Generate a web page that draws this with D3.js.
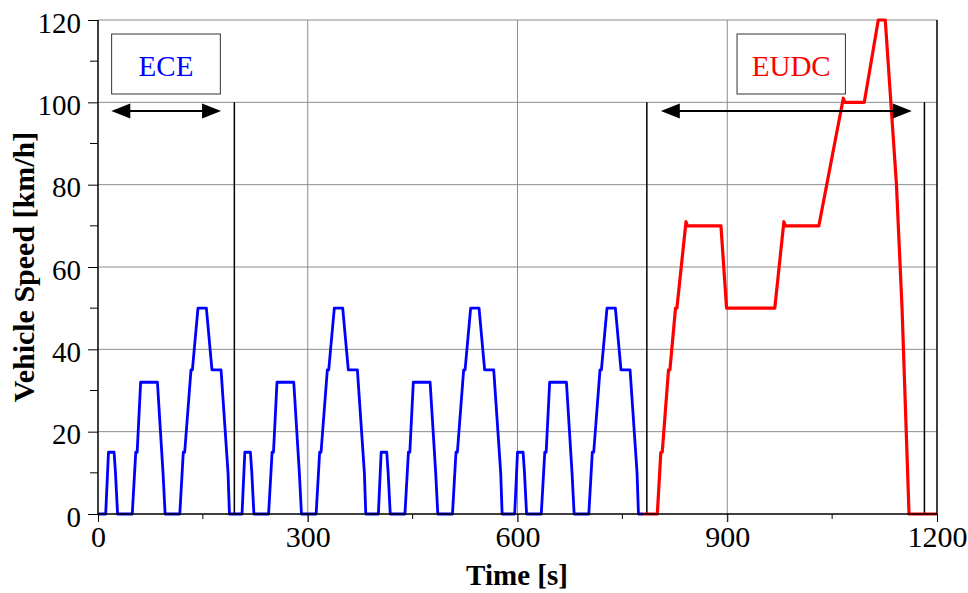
<!DOCTYPE html>
<html>
<head>
<meta charset="utf-8">
<script src="https://cdn.jsdelivr.net/npm/d3@7"></script>
<style>
  body { margin: 0; background: #fff; }
  text { font-family: "Liberation Serif", "Times New Roman", serif; }
</style>
</head>
<body>
<div id="chart"></div>
<script>
// NEDC speed profile: one ECE (urban) cycle repeated four times, then the EUDC part

// one ECE cycle, seconds from the cycle start
const eceTime  = [0, 11, 15, 23, 25, 28, 49, 54, 56, 61, 85, 93, 96, 117, 122, 124, 133, 135, 143, 155, 163, 176, 186, 188, 195];
const eceSpeed = [0, 0, 15, 15, 10, 0, 0, 15, 15, 32, 32, 10, 0, 0, 15, 15, 35, 35, 50, 50, 35, 35, 10, 0, 0];
const eceStarts = [0, 195, 390, 585];

// EUDC, absolute seconds
const eudcTime  = [780, 800, 805, 807, 816, 818, 826, 828, 841, 843, 891, 899, 968, 981, 983, 1031, 1066, 1068, 1096, 1116, 1126, 1142, 1150, 1160, 1200];
const eudcSpeed = [0, 0, 15, 15, 35, 35, 50, 50, 71, 70, 70, 50, 50, 71, 70, 70, 101, 100, 100, 120, 120, 80, 50, 0, 0];

const xTicks = [0, 300, 600, 900, 1200];
const xMinor = [150, 450, 750, 1050];
const yTicks = [0, 20, 40, 60, 80, 100, 120];
const yMinor = [10, 30, 50, 70, 90, 110];

// phase boundaries and span arrows
const phaseLines = [195, 785, 1182];
const phaseNames = ["ECE", "EUDC"];
const phaseSpans = [[19, 176], [805, 1164]];
const phaseBoxes = [[19.5, 175], [914, 1069]];

const config = {
  WIDTH: 968,
  HEIGHT: 593,
  LEFT: 98,
  RIGHT: 937,
  TOP: 20,
  BOTTOM: 514,
};
const { WIDTH, HEIGHT, LEFT, RIGHT, TOP, BOTTOM } = config;

function buildEce() {
  const pts = [];
  eceStarts.forEach(start => {
    eceTime.forEach((t, i) => pts.push([start + t, eceSpeed[i]]));
  });
  return pts;
}

function createChart() {
  const svg = d3.select('#chart').append('svg')
    .attr('width', WIDTH)
    .attr('height', HEIGHT);

  const x = d3.scaleLinear().domain([0, 1200]).range([LEFT, RIGHT]);
  const y = d3.scaleLinear().domain([0, 120]).range([BOTTOM, TOP]);

  // grid
  const grid = svg.append('g').attr('stroke', '#8c8c8c').attr('stroke-width', 1);
  grid.selectAll('line.gx')
    .data(xTicks.slice(1, -1))
    .enter().append('line')
    .attr('x1', d => x(d)).attr('x2', d => x(d))
    .attr('y1', TOP).attr('y2', BOTTOM + 8);
  grid.selectAll('line.gy')
    .data(yTicks.slice(1))
    .enter().append('line')
    .attr('x1', LEFT).attr('x2', RIGHT)
    .attr('y1', d => y(d)).attr('y2', d => y(d));

  // phase separators
  svg.selectAll('line.phase')
    .data(phaseLines)
    .enter().append('line')
    .attr('x1', d => x(d)).attr('x2', d => x(d))
    .attr('y1', y(100)).attr('y2', BOTTOM)
    .attr('stroke', '#000').attr('stroke-width', 1.5);

  // speed lines
  const line = d3.line().x(d => x(d[0])).y(d => y(d[1]));
  svg.append('path')
    .datum(buildEce())
    .attr('d', line)
    .attr('fill', 'none').attr('stroke', '#0000ff')
    .attr('stroke-width', 2.8).attr('stroke-linejoin', 'round');
  svg.append('path')
    .datum(eudcTime.map((t, i) => [t, eudcSpeed[i]]))
    .attr('d', line)
    .attr('fill', 'none').attr('stroke', '#ff0000')
    .attr('stroke-width', 3.2).attr('stroke-linejoin', 'round');

  // frame
  svg.append('line').attr('x1', LEFT).attr('x2', RIGHT).attr('y1', BOTTOM).attr('y2', BOTTOM)
    .attr('stroke', '#000').attr('stroke-width', 1.5);
  svg.append('line').attr('x1', LEFT).attr('x2', LEFT).attr('y1', TOP).attr('y2', BOTTOM)
    .attr('stroke', '#000').attr('stroke-width', 1.5);
  svg.append('line').attr('x1', RIGHT).attr('x2', RIGHT).attr('y1', TOP).attr('y2', BOTTOM)
    .attr('stroke', '#000').attr('stroke-width', 1.5);

  // axes
  const xAxis = d3.axisBottom(x).tickValues(xTicks).tickFormat(d3.format('d'))
    .tickSize(8).tickSizeOuter(0);
  const gx = svg.append('g').attr('transform', `translate(0,${BOTTOM})`).call(xAxis);
  gx.select('.domain').remove();
  gx.selectAll('text').attr('font-size', 30).attr('fill', '#000').attr('y', 12).attr('dy', '0.71em');
  gx.selectAll('g.minor')
    .data(xMinor).enter().append('line')
    .attr('x1', d => x(d)).attr('x2', d => x(d))
    .attr('y1', 0).attr('y2', 5).attr('stroke', '#000');

  const yAxis = d3.axisLeft(y).tickValues(yTicks).tickFormat(d3.format('d'))
    .tickSize(10).tickSizeOuter(0);
  const gy = svg.append('g').attr('transform', `translate(${LEFT},0)`).call(yAxis);
  gy.select('.domain').remove();
  gy.selectAll('text').attr('font-size', 29).attr('fill', '#000').attr('x', -17).attr('dy', '0.42em');
  gy.selectAll('g.minor')
    .data(yMinor).enter().append('line')
    .attr('x1', -8).attr('x2', 0)
    .attr('y1', d => y(d)).attr('y2', d => y(d)).attr('stroke', '#000');

  // axis titles
  svg.append('text')
    .attr('x', 517).attr('y', 585)
    .attr('text-anchor', 'middle')
    .attr('font-size', 29).attr('font-weight', 'bold')
    .text('Time [s]');
  svg.append('text')
    .attr('transform', 'translate(34,267) rotate(-90)')
    .attr('text-anchor', 'middle')
    .attr('font-size', 30).attr('font-weight', 'bold')
    .text('Vehicle Speed [km/h]');

  // phase labels in boxes
  const colors = ['#0000ff', '#ff0000'];
  phaseNames.forEach((name, i) => {
    const [b0, b1] = phaseBoxes[i];
    svg.append('rect')
      .attr('x', x(b0)).attr('y', 34)
      .attr('width', x(b1) - x(b0)).attr('height', 60)
      .attr('fill', '#fff').attr('stroke', '#333').attr('stroke-width', 1);
    svg.append('text')
      .attr('x', (x(b0) + x(b1)) / 2).attr('y', 75.5)
      .attr('text-anchor', 'middle')
      .attr('font-size', 29).attr('fill', colors[i])
      .text(name);

    // double-headed arrow
    const [s0, s1] = phaseSpans[i];
    const ay = 111, hl = 19, hw = 7.5;
    svg.append('line')
      .attr('x1', x(s0) + hl - 2).attr('x2', x(s1) - hl + 2)
      .attr('y1', ay).attr('y2', ay)
      .attr('stroke', '#000').attr('stroke-width', 2);
    svg.append('path')
      .attr('d', `M${x(s0)},${ay}L${x(s0) + hl},${ay - hw}L${x(s0) + hl},${ay + hw}Z`)
      .attr('fill', '#000');
    svg.append('path')
      .attr('d', `M${x(s1)},${ay}L${x(s1) - hl},${ay - hw}L${x(s1) - hl},${ay + hw}Z`)
      .attr('fill', '#000');
  });
}

document.addEventListener('DOMContentLoaded', createChart);
</script>
</body>
</html>
